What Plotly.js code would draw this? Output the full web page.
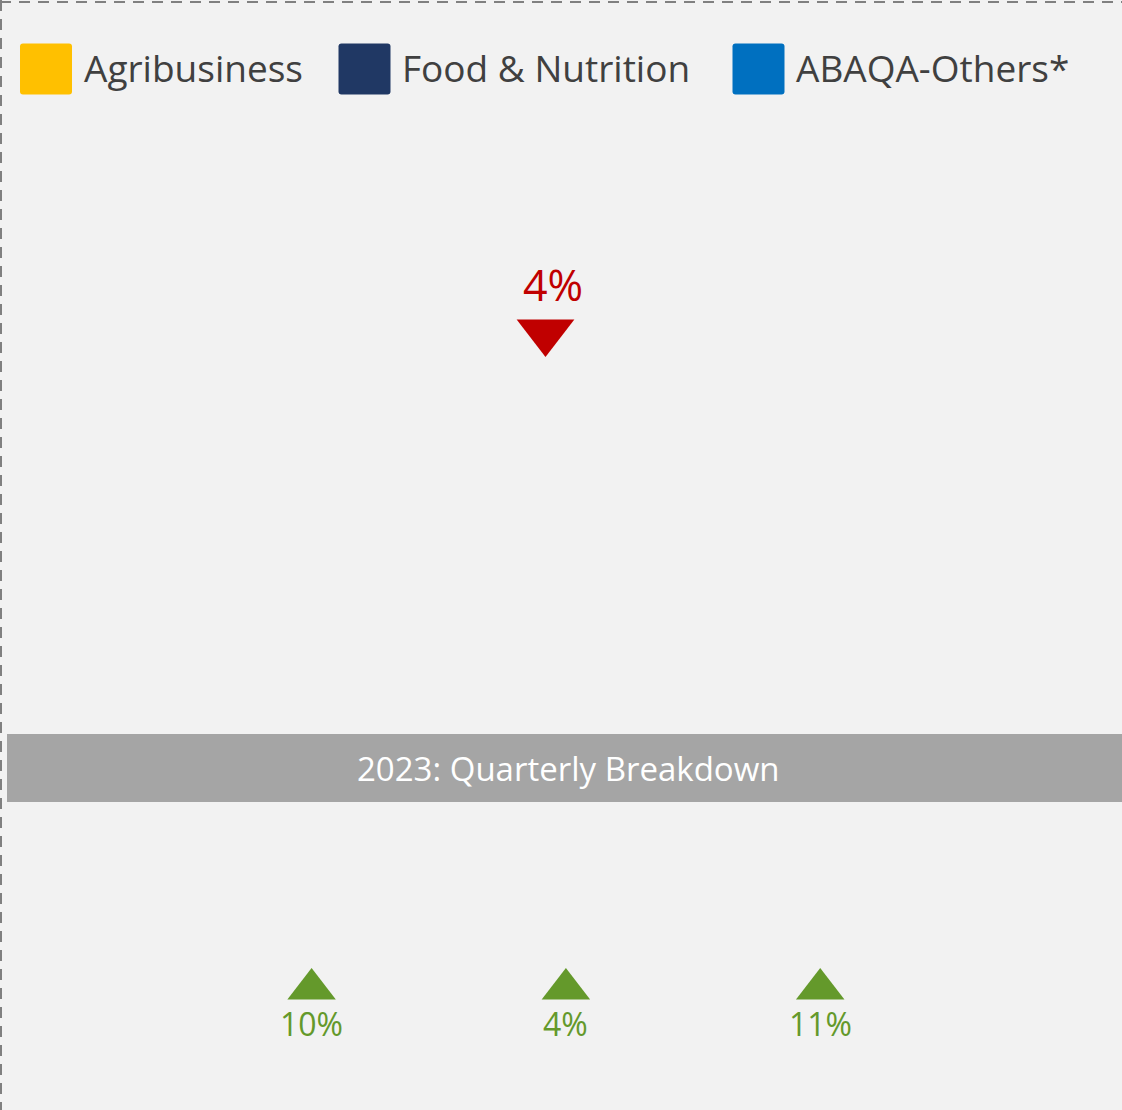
<!DOCTYPE html>
<html>
<head>
<meta charset="utf-8">
<script src="https://cdn.plot.ly/plotly-3.0.1.min.js"></script>
<style>
  html, body { margin: 0; padding: 0; background: #F2F2F2; }
  #chart { width: 1122px; height: 1110px; }
</style>
</head>
<body>
<div id="chart"></div>
<script>
// ---- data ----
const segments = ["Agribusiness", "Food & Nutrition", "ABAQA-Others*"];
const fullYear = ["FY 2023"];
const fullYearChange = [-4];
const quarters = ["Q2", "Q3", "Q4"];
const quarterChange = [10, 4, 11];
const sectionTitle = "2023: Quarterly Breakdown";

// ---- styles ----
const segmentColors = ["#FFC000", "#203864", "#0070C0"];
const upColor = "#64992B";
const downColor = "#C00000";
const FONT = "Open Sans, Noto Sans, sans-serif";
const W = 1122, H = 1110;

function pctText(v) { return Math.abs(v) + "%"; }
function sym(v) { return v < 0 ? "triangle-down" : "triangle-up"; }
function col(v) { return v < 0 ? downColor : upColor; }

const traces = [
  {
    type: "scatter", mode: "markers",
    x: fullYear, y: fullYear.map(() => 0),
    xaxis: "x2", yaxis: "y2",
    marker: { symbol: fullYearChange.map(sym), color: fullYearChange.map(col), size: 50, line: { width: 0 } },
    hoverinfo: "skip", showlegend: false
  },
  {
    type: "scatter", mode: "markers",
    x: quarters, y: quarters.map(() => 0),
    xaxis: "x", yaxis: "y",
    marker: { symbol: quarterChange.map(sym), color: quarterChange.map(col), size: 42, line: { width: 0 } },
    hoverinfo: "skip", showlegend: false
  }
];

const annotations = [];
// category axes: annotation x is the category's serial index
fullYear.forEach((c, i) => {
  annotations.push({
    xref: "x2", yref: "y2", x: i, y: 0, text: pctText(fullYearChange[i]),
    showarrow: false, xanchor: "center", yanchor: "middle", xshift: 7, yshift: 48,
    font: { family: FONT, size: 43, color: col(fullYearChange[i]) }
  });
});
quarters.forEach((q, i) => {
  annotations.push({
    xref: "x", yref: "y", x: i, y: 0, text: pctText(quarterChange[i]),
    showarrow: false, xanchor: "center", yanchor: "middle", yshift: -34,
    font: { family: FONT, size: 32, color: col(quarterChange[i]) }
  });
});

// banner title
annotations.push({
  xref: "paper", yref: "paper", x: 568 / W, y: 1 - 768 / H, text: sectionTitle,
  showarrow: false, xanchor: "center", yanchor: "middle",
  font: { family: FONT, size: 33, color: "#FFFFFF" }
});

// legend (drawn manually: large rounded swatches)
const legendSwatchX = [20, 338.5, 732.5];
const legendTextX = [82, 400, 794];
const shapes = [];
function roundedRect(x0, y0, x1, y1, r) {
  const X = v => (v / W).toFixed(5), Y = v => (1 - v / H).toFixed(5);
  return "M" + X(x0 + r) + "," + Y(y0) +
    " L" + X(x1 - r) + "," + Y(y0) +
    " Q" + X(x1) + "," + Y(y0) + " " + X(x1) + "," + Y(y0 + r) +
    " L" + X(x1) + "," + Y(y1 - r) +
    " Q" + X(x1) + "," + Y(y1) + " " + X(x1 - r) + "," + Y(y1) +
    " L" + X(x0 + r) + "," + Y(y1) +
    " Q" + X(x0) + "," + Y(y1) + " " + X(x0) + "," + Y(y1 - r) +
    " L" + X(x0) + "," + Y(y0 + r) +
    " Q" + X(x0) + "," + Y(y0) + " " + X(x0 + r) + "," + Y(y0) + " Z";
}
segments.forEach((s, i) => {
  shapes.push({
    type: "path", xref: "paper", yref: "paper",
    path: roundedRect(legendSwatchX[i], 43.5, legendSwatchX[i] + 52, 94.5, 3),
    fillcolor: segmentColors[i], line: { width: 0 }, layer: "above"
  });
  annotations.push({
    xref: "paper", yref: "paper", x: legendTextX[i] / W, y: 1 - 67 / H, text: s,
    showarrow: false, xanchor: "left", yanchor: "middle",
    font: { family: FONT, size: 37, color: "#404040" }
  });
});

// banner
shapes.push({
  type: "rect", xref: "paper", yref: "paper",
  x0: 7 / W, x1: 1, y0: 1 - 802 / H, y1: 1 - 734 / H,
  fillcolor: "#A5A5A5", line: { width: 0 }, layer: "below"
});
// dashed frame (top and left)
shapes.push({
  type: "line", xref: "paper", yref: "paper",
  x0: 0, x1: 1, y0: 1 - 2 / H, y1: 1 - 2 / H,
  line: { color: "#808080", width: 2, dash: "11px,8px" }
});
shapes.push({
  type: "line", xref: "paper", yref: "paper",
  x0: 1 / W, x1: 1 / W, y0: 1, y1: 0,
  line: { color: "#808080", width: 2, dash: "11px,8px" }
});

const hidden = { visible: false, showgrid: false, zeroline: false, fixedrange: true };
const layout = {
  width: W, height: H,
  margin: { l: 0, r: 0, t: 0, b: 0, pad: 0 },
  paper_bgcolor: "#F2F2F2", plot_bgcolor: "rgba(0,0,0,0)",
  showlegend: false,
  xaxis: Object.assign({}, hidden, { type: "category", categoryarray: quarters, range: [-1.2253, 3.1868], domain: [0, 1], anchor: "y" }),
  yaxis: Object.assign({}, hidden, { range: [-1, 1], domain: [1 - 989 / H - 0.1, 1 - 989 / H + 0.1], anchor: "x" }),
  xaxis2: Object.assign({}, hidden, { type: "category", range: [-0.5, 0.5], domain: [0, 2 * 545.5 / W], anchor: "y2" }),
  yaxis2: Object.assign({}, hidden, { range: [-1, 1], domain: [1 - 332 / H - 0.05, 1 - 332 / H + 0.05], anchor: "x2" }),
  shapes: shapes,
  annotations: annotations,
  hovermode: false
};

Plotly.newPlot("chart", traces, layout, { displayModeBar: false, staticPlot: true });
</script>
</body>
</html>
